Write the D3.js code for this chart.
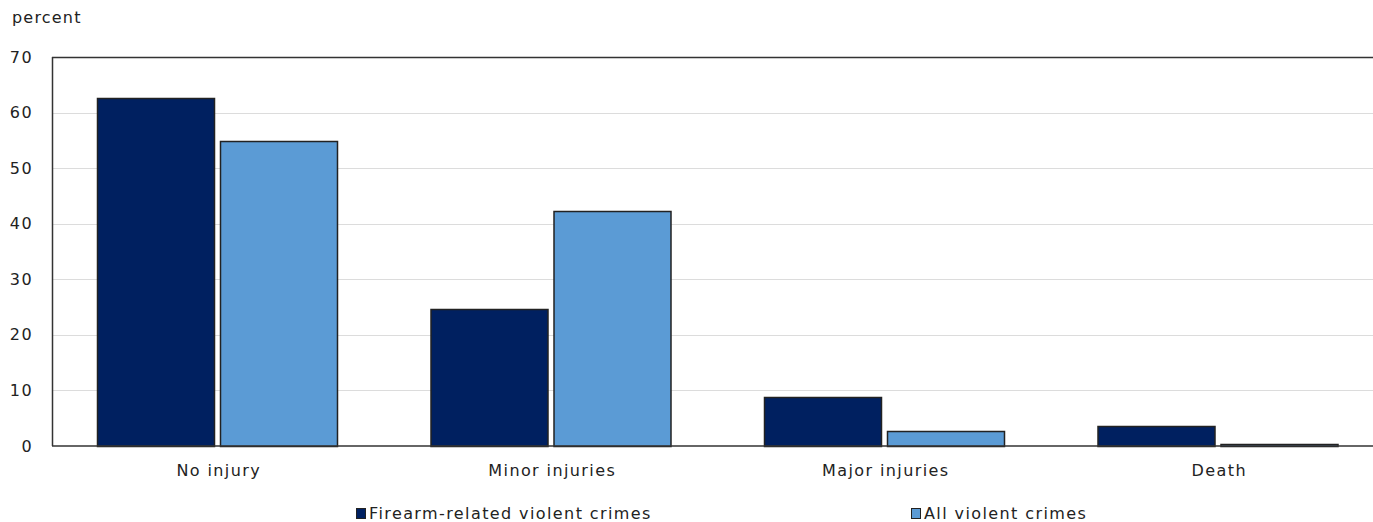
<!DOCTYPE html>
<html>
<head>
<meta charset="utf-8">
<script src="https://cdn.jsdelivr.net/npm/d3@7"></script>
<style>
  body { margin: 0; background: #fff; }
  svg { display: block; font-family: "DejaVu Sans", Verdana, sans-serif; }
  text { font-size: 16px; letter-spacing: 1.4px; fill: #222; }
</style>
</head>
<body>
<svg id="chart" width="1373" height="522"></svg>
<script>
const categories = ['No injury', 'Minor injuries', 'Major injuries', 'Death'];
const seriesNames = ['Firearm-related violent crimes', 'All violent crimes'];
const firearm = [62.6, 24.6, 8.9, 3.6];
const allViolent = [54.8, 42.3, 2.7, 0.3];
const yTicks = [0, 10, 20, 30, 40, 50, 60, 70];
const colors = ['#002060', '#5b9bd5'];

const svg = d3.select('#chart');
const margin = { top: 57, right: 0, bottom: 76, left: 52 };
const width = 1373 - margin.left - margin.right;
const height = 522 - margin.top - margin.bottom;
// the category bands run a little past the right edge of the picture
const bandSpan = 1334;

const g = svg.append('g').attr('transform', `translate(${margin.left},${margin.top})`);

const x = d3.scaleBand().domain(categories).range([0, bandSpan]);
const x1 = d3.scaleBand().domain(seriesNames).range([45, 285]).paddingInner(6 / 123);
const y = d3.scaleLinear().domain([0, 70]).range([height, 0]);

// gridlines
g.append('g')
  .selectAll('line')
  .data(yTicks.filter(t => t > 0 && t < 70))
  .join('line')
  .attr('x1', 0)
  .attr('x2', width)
  .attr('y1', d => Math.round(y(d)) + 0.5)
  .attr('y2', d => Math.round(y(d)) + 0.5)
  .attr('stroke', '#dcdcdc')
  .attr('stroke-width', 1);

// y tick labels
g.append('g')
  .selectAll('text')
  .data(yTicks)
  .join('text')
  .attr('x', -19)
  .attr('y', d => y(d))
  .attr('dy', '0.35em')
  .attr('text-anchor', 'end')
  .text(d => d);

svg.append('text')
  .attr('x', 12)
  .attr('y', 23)
  .style('letter-spacing', '1.2px')
  .text('percent');

// bars
const rows = categories.map((c, i) => ({ cat: c, vals: [firearm[i], allViolent[i]] }));
g.append('g')
  .selectAll('g')
  .data(rows)
  .join('g')
  .attr('transform', d => `translate(${x(d.cat)},0)`)
  .selectAll('rect')
  .data(d => d.vals.map((v, j) => ({ key: seriesNames[j], v, j })))
  .join('rect')
  .attr('x', d => Math.round(x1(d.key)) + 0.5)
  .attr('y', d => Math.round(y(d.v)) + 0.5)
  .attr('width', x1.bandwidth())
  .attr('height', d => Math.max(0, height - Math.round(y(d.v))))
  .attr('fill', d => colors[d.j])
  .attr('stroke', '#222')
  .attr('stroke-width', 1.5);

// frame: left, top, bottom
g.append('line').attr('x1', 0.5).attr('x2', 0.5).attr('y1', 0).attr('y2', height)
  .attr('stroke', '#333').attr('stroke-width', 1.5);
g.append('line').attr('x1', 0).attr('x2', width).attr('y1', 0.5).attr('y2', 0.5)
  .attr('stroke', '#333').attr('stroke-width', 1.5);
g.append('line').attr('x1', 0).attr('x2', width).attr('y1', height).attr('y2', height)
  .attr('stroke', '#333').attr('stroke-width', 1.5);

// x labels
g.append('g')
  .selectAll('text')
  .data(categories)
  .join('text')
  .attr('x', d => x(d) + x.bandwidth() / 2)
  .attr('y', height + 30)
  .attr('text-anchor', 'middle')
  .text(d => d);

// legend
const legendX = [356, 911];
const legend = svg.append('g')
  .selectAll('g')
  .data(seriesNames)
  .join('g')
  .attr('transform', (d, i) => `translate(${legendX[i]},508)`);
legend.append('rect')
  .attr('x', 0.5).attr('y', 0.5)
  .attr('width', 9).attr('height', 10)
  .attr('fill', (d, i) => colors[i])
  .attr('stroke', '#222')
  .attr('stroke-width', 1);
legend.append('text')
  .attr('x', 13)
  .attr('y', 11)
  .text(d => d);
</script>
</body>
</html>
